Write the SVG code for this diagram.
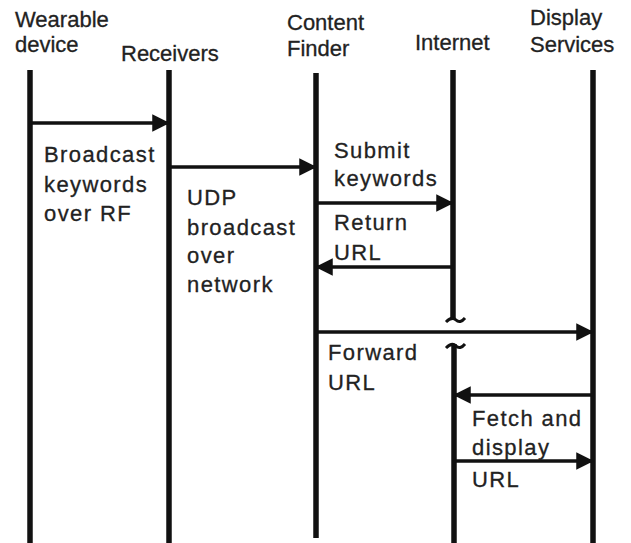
<svg xmlns="http://www.w3.org/2000/svg" width="631" height="543" viewBox="0 0 631 543">
<style>
.h{font-family:"Liberation Sans",Arial,sans-serif;font-size:22px;fill:#222;stroke:#222;stroke-width:0.3}
.m{font-family:"Liberation Sans",Arial,sans-serif;font-size:22px;fill:#222;stroke:#222;stroke-width:0.3;letter-spacing:1.4px}
.life{stroke:#111;stroke-width:5.5;fill:none}
.msg{stroke:#111;stroke-width:3.5;fill:none;marker-end:url(#ah)}
</style>
<defs>
<marker id="ah" viewBox="0 0 10 10" refX="9" refY="5" markerWidth="5" markerHeight="5" markerUnits="strokeWidth" orient="auto">
<path d="M0,0 L10,5 L0,10 Z" fill="#111"/>
</marker>
</defs>
<rect width="631" height="543" fill="#fff"/>
<g id="wearable">
<text class="h" x="15" y="27">Wearable</text>
<text class="h" x="15" y="52">device</text>
<line class="life" x1="30" y1="70" x2="30" y2="543"/>
</g>
<g id="receivers">
<text class="h" x="121" y="61">Receivers</text>
<line class="life" x1="169" y1="70" x2="169" y2="543"/>
</g>
<g id="content-finder">
<text class="h" x="287" y="30">Content</text>
<text class="h" x="287" y="56">Finder</text>
<line class="life" x1="316" y1="73" x2="316" y2="538"/>
</g>
<g id="internet">
<text class="h" x="415" y="50">Internet</text>
<line class="life" x1="453" y1="70" x2="453" y2="318"/>
<line class="life" x1="454" y1="344" x2="454" y2="543"/>
<path d="M446,322 Q452,316 456,320 Q460,324 465,318" stroke="#111" stroke-width="3" fill="none"/>
<path d="M446,348 Q452,342 456,346 Q460,350 465,344" stroke="#111" stroke-width="3" fill="none"/>
</g>
<g id="display-services">
<text class="h" x="530" y="25">Display</text>
<text class="h" x="530" y="52">Services</text>
<line class="life" x1="593" y1="70" x2="593" y2="543"/>
</g>
<g id="connectors">
<line class="msg" x1="30" y1="123" x2="168" y2="123"/>
<line class="msg" x1="169" y1="167" x2="315" y2="167"/>
<line class="msg" x1="316" y1="203" x2="452" y2="203"/>
<line class="msg" x1="453" y1="267" x2="317" y2="267"/>
<line class="msg" x1="316" y1="332" x2="592" y2="332"/>
<line class="msg" x1="593" y1="395" x2="455" y2="395"/>
<line class="msg" x1="454" y1="461" x2="592" y2="461"/>
</g>
<g id="labels">
<text class="m" x="44" y="162">Broadcast</text>
<text class="m" x="44" y="192">keywords</text>
<text class="m" x="44" y="221">over RF</text>
<text class="m" x="187" y="205">UDP</text>
<text class="m" x="187" y="235">broadcast</text>
<text class="m" x="187" y="263">over</text>
<text class="m" x="187" y="292">network</text>
<text class="m" x="334" y="158">Submit</text>
<text class="m" x="334" y="186">keywords</text>
<text class="m" x="334" y="230">Return</text>
<text class="m" x="334" y="260">URL</text>
<text class="m" x="328" y="360">Forward</text>
<text class="m" x="328" y="390">URL</text>
<text class="m" x="472" y="426">Fetch and</text>
<text class="m" x="472" y="455">display</text>
<text class="m" x="472" y="487">URL</text>
</g>
</svg>
